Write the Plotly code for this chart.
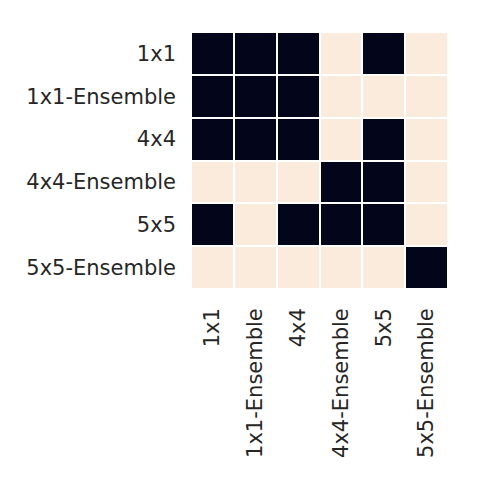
import plotly.graph_objects as go

models = ["1x1", "1x1-Ensemble", "4x4", "4x4-Ensemble", "5x5", "5x5-Ensemble"]

# 1 = dark cell, 0 = light cell (rows top to bottom)
row_1x1 = [1, 1, 1, 0, 1, 0]
row_1x1_ens = [1, 1, 1, 0, 0, 0]
row_4x4 = [1, 1, 1, 0, 1, 0]
row_4x4_ens = [0, 0, 0, 1, 1, 0]
row_5x5 = [1, 0, 1, 1, 1, 0]
row_5x5_ens = [0, 0, 0, 0, 0, 1]

z = [row_1x1, row_1x1_ens, row_4x4, row_4x4_ens, row_5x5, row_5x5_ens]

fig = go.Figure(
    go.Heatmap(
        z=z,
        x=models,
        y=models,
        colorscale=[[0, "#FAEBDD"], [1, "#03051A"]],
        zmin=0,
        zmax=1,
        showscale=False,
        xgap=2,
        ygap=2,
        hoverongaps=False,
    )
)

fig.update_layout(
    width=480,
    height=480,
    margin={"l": 183, "r": 40, "t": 24, "b": 199},
    paper_bgcolor="white",
    plot_bgcolor="white",
    font={"family": "DejaVu Sans", "size": 21, "color": "#262626"},
)
fig.update_xaxes(
    tickangle=-90,
    showgrid=False,
    zeroline=False,
    ticks="",
    ticklabelstandoff=14,
)
fig.update_yaxes(
    autorange="reversed",
    showgrid=False,
    zeroline=False,
    ticks="",
    ticklabelstandoff=14,
)

fig.write_html("out.html")
